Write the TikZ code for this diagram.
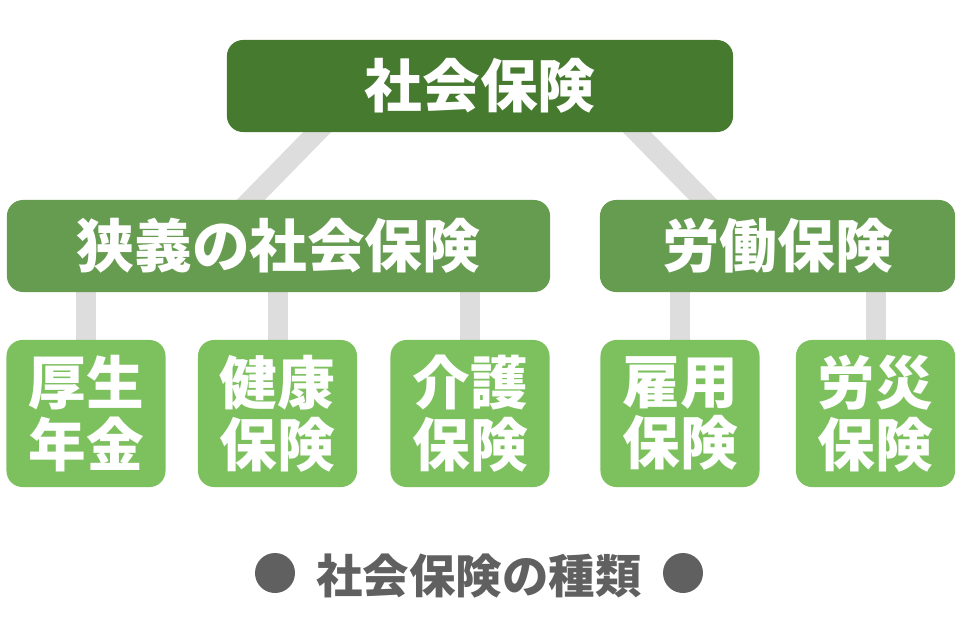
\documentclass[tikz,border=0pt]{standalone}
\usepackage{fontspec}
\newfontfamily\jp{Noto Sans CJK JP}
\usetikzlibrary{backgrounds}
\definecolor{topgreen}{HTML}{467A2E}
\definecolor{midgreen}{HTML}{669C50}
\definecolor{lowgreen}{HTML}{7DC15F}
\definecolor{linkgrey}{HTML}{DDDDDD}
\definecolor{capgrey}{HTML}{606060}
\tikzset{
  box/.style={rounded corners=0.4cm, inner sep=0pt, text=white, align=center,
    font=\jp\bfseries\fontsize{41}{44}\selectfont},
  topbox/.style={box, fill=topgreen, minimum width=12.65cm, minimum height=2.3cm},
  midbox/.style={box, fill=midgreen, minimum height=2.3cm},
  lowbox/.style={box, fill=lowgreen, minimum width=3.975cm, minimum height=3.675cm},
  link/.style={linkgrey, line width=0.5cm},
  capdot/.style={circle, fill=capgrey, inner sep=0pt, minimum size=1cm},
}
\begin{document}
\begin{tikzpicture}[x=0.025cm,y=-0.025cm]
  \useasboundingbox (0,0) rectangle (960,640);
  \node[topbox] (top) at (480,86) {社会保険};
  \node[midbox, minimum width=13.575cm] (shk) at (278.5,246) {狭義の社会保険};
  \node[midbox, minimum width=8.875cm] (rdh) at (777.5,246) {労働保険};
  \node[lowbox] (kn) at (86,413.5) {厚生\\年金};
  \node[lowbox] (kk) at (277.5,413.5) {健康\\保険};
  \node[lowbox] (kg) at (470,413.5) {介護\\保険};
  \node[lowbox] (ky) at (680,413.5) {雇用\\保険};
  \node[lowbox] (rs) at (875.5,413.5) {労災\\保険};
  \begin{pgfonlayer}{background}
    \draw[link, shorten <=-0.5cm, shorten >=-0.5cm] ([xshift=-4.075cm]top.south) -- ([xshift=-0.6875cm]shk.north);
    \draw[link, shorten <=-0.5cm, shorten >=-0.5cm] ([xshift=3.925cm]top.south) -- ([xshift=-1.8625cm]rdh.north);
    \foreach \n in {kn,kk,kg}
      \draw[link] (\n.north) -- (\n.north |- shk.south);
    \foreach \n in {ky,rs}
      \draw[link] (\n.north) -- (\n.north |- rdh.south);
  \end{pgfonlayer}
  \node[font=\jp\bfseries\fontsize{33}{36}\selectfont, text=capgrey] (cap) at (479,576) {社会保険の種類};
  \node[capdot] (dl) at (275,573) {};
  \node[capdot] (dr) at (683,573) {};
\end{tikzpicture}
\end{document}
